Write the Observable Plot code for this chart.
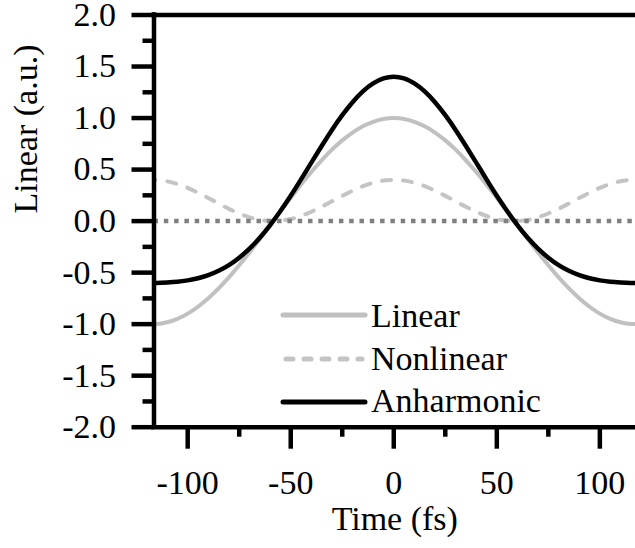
<!DOCTYPE html>
<html><head><meta charset="utf-8">
<script src="https://cdn.jsdelivr.net/npm/d3@7"></script>
<script src="https://cdn.jsdelivr.net/npm/@observablehq/plot@0.6"></script>
<style>html,body{margin:0;padding:0;background:#fff} svg{display:block}</style>
</head><body><div id="chart"></div>
<script>
const time = [-120,-115,-110,-105,-100,-95,-90,-85,-80,-75,-70,-65,-60,-55,-50,-45,-40,-35,-30,-25,-20,-15,-10,-5,0,5,10,15,20,25,30,35,40,45,50,55,60,65,70,75,80,85,90,95,100,105,110,115,120];
const linear = [-0.997,-0.999,-0.982,-0.949,-0.898,-0.831,-0.749,-0.653,-0.546,-0.429,-0.304,-0.174,-0.040,0.094,0.226,0.355,0.477,0.590,0.693,0.783,0.859,0.920,0.964,0.991,1.000,0.991,0.964,0.920,0.859,0.783,0.693,0.590,0.477,0.355,0.226,0.094,-0.040,-0.174,-0.304,-0.429,-0.546,-0.653,-0.749,-0.831,-0.898,-0.949,-0.982,-0.999,-0.997];
const nonlinear = [0.398,0.399,0.386,0.360,0.323,0.276,0.224,0.171,0.119,0.074,0.037,0.012,0.001,0.004,0.020,0.050,0.091,0.139,0.192,0.245,0.295,0.339,0.372,0.393,0.400,0.393,0.372,0.339,0.295,0.245,0.192,0.139,0.091,0.050,0.020,0.004,0.001,0.012,0.037,0.074,0.119,0.171,0.224,0.276,0.323,0.360,0.386,0.399,0.398];
const anharmonic = [-0.599,-0.600,-0.596,-0.589,-0.575,-0.555,-0.525,-0.482,-0.427,-0.355,-0.267,-0.162,-0.039,0.098,0.246,0.405,0.568,0.729,0.885,1.028,1.154,1.259,1.336,1.384,1.400,1.384,1.336,1.259,1.154,1.028,0.885,0.729,0.568,0.405,0.246,0.098,-0.039,-0.162,-0.267,-0.355,-0.427,-0.482,-0.525,-0.555,-0.575,-0.589,-0.596,-0.600,-0.599];
const xDomain = [-116.35, 117.3];
const yDomain = [-2, 2];
const xMajor = [-100, -50, 0, 50, 100];
const xMinor = [-75, -25, 25, 75];
const yMajor = [-2, -1.5, -1, -0.5, 0, 0.5, 1, 1.5, 2];
const yMinor = [-1.75, -1.25, -0.75, -0.25, 0.25, 0.75, 1.25, 1.75];
const seriesNames = ["Linear", "Nonlinear", "Anharmonic"];
const xLabel = "Time (fs)";
const yLabel = "Linear (a.u.)";

const rows = time.map((t, i) => ({t, linear: linear[i], nonlinear: nonlinear[i], anharmonic: anharmonic[i]}));
const font = "'Liberation Serif', 'Times New Roman', Times, serif";
const fs = 34;
const grayL = "#c0c0c0", grayN = "#c4c4c4";

const plot = Plot.plot({
  width: 635, height: 548,
  marginLeft: 153.5, marginRight: 0, marginTop: 14.5, marginBottom: 121.3,
  style: {fontFamily: font, fontSize: fs + "px", color: "#000", background: "#fff", overflow: "visible"},
  x: {domain: xDomain},
  y: {domain: yDomain},
  marks: [
    Plot.line(rows, {x: "t", y: "linear", stroke: grayL, strokeWidth: 4, curve: "natural", clip: true}),
    Plot.line(rows, {x: "t", y: "nonlinear", stroke: grayN, strokeWidth: 4, strokeDasharray: "9,12", strokeLinecap: "round", curve: "natural", clip: true}),
    Plot.ruleY([0], {stroke: "#808080", strokeWidth: 4.5, strokeDasharray: "4.5,5.8"}),
    Plot.line(rows, {x: "t", y: "anharmonic", stroke: "#000", strokeWidth: 4.5, curve: "natural", clip: true}),
    Plot.axisX({ticks: xMajor, tickSize: 22, tickPadding: 21, strokeWidth: 4.5, tickFormat: d => String(d), label: null, fontSize: fs}),
    Plot.axisX({ticks: xMinor, tickSize: 10, strokeWidth: 4.5, text: null, label: null}),
    Plot.axisY({ticks: yMajor, tickSize: 22, tickPadding: 16, strokeWidth: 4.5, tickFormat: d => d.toFixed(1), label: null, fontSize: fs}),
    Plot.axisY({ticks: yMinor, tickSize: 11, strokeWidth: 4.5, text: null, label: null}),
    Plot.ruleY(yDomain, {stroke: "#000", strokeWidth: 4.5, strokeLinecap: "square"}),
    Plot.ruleX([xDomain[0]], {stroke: "#000", strokeWidth: 4.5, strokeLinecap: "square"}),
    Plot.text([xLabel], {frameAnchor: "bottom", dy: 102.5, fontSize: fs, fill: "#000"}),
    Plot.text([yLabel], {frameAnchor: "left", rotate: -90, dx: -127.5, dy: -7.6, fontSize: fs, fill: "#000"})
  ]
});

// legend
const svg = d3.select(plot);
const legendStyles = [
  {stroke: grayL, dash: null, w: 5},
  {stroke: grayN, dash: "7,11", w: 5, cap: "round"},
  {stroke: "#000", dash: null, w: 5}
];
const lineY = [315, 359, 402];
const textY = [327, 370, 412];
const g = svg.append("g");
seriesNames.forEach((name, i) => {
  const s = legendStyles[i];
  g.append("line").attr("x1", s.cap ? 286 : 283).attr("x2", s.cap ? 362 : 365)
    .attr("y1", lineY[i]).attr("y2", lineY[i])
    .attr("stroke", s.stroke).attr("stroke-width", s.w)
    .attr("stroke-dasharray", s.dash).attr("stroke-linecap", s.cap || "round");
  g.append("text").attr("x", 371).attr("y", textY[i])
    .attr("text-anchor", "start")
    .attr("font-family", font).attr("font-size", fs).attr("fill", "#000").text(name);
});

document.getElementById("chart").appendChild(plot);
</script>
</body></html>
